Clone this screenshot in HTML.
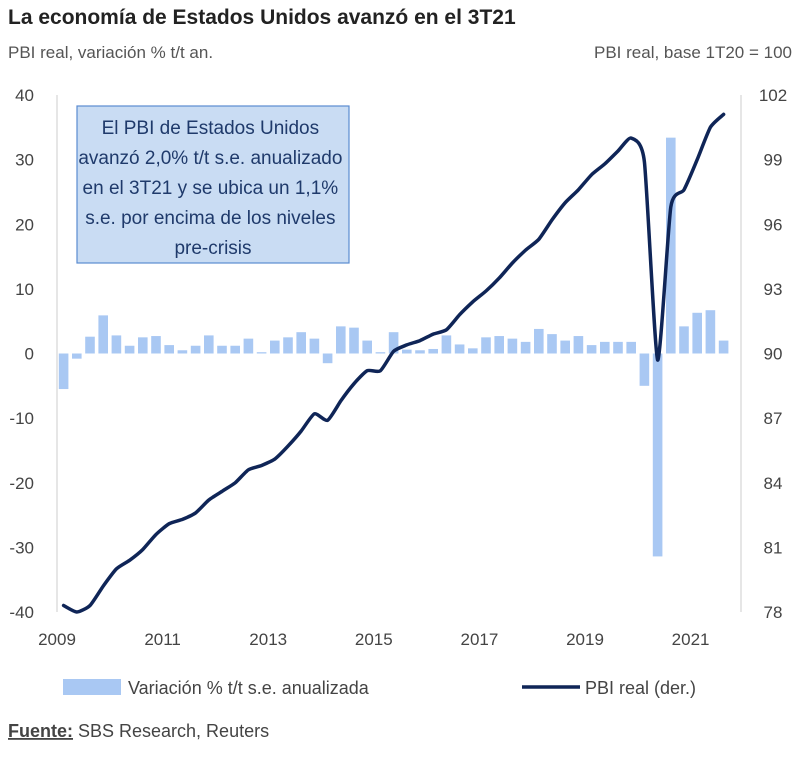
<!DOCTYPE html>
<html><head><meta charset="utf-8"><style>
body{margin:0;background:#fff;width:800px;height:754px;overflow:hidden;font-family:"Liberation Sans",sans-serif}
</style></head><body>
<svg width="800" height="754" xmlns="http://www.w3.org/2000/svg" font-family="Liberation Sans, sans-serif">
<text x="8" y="24" font-size="21" font-weight="bold" fill="#222">La economía de Estados Unidos avanzó en el 3T21</text>
<text x="8" y="58" font-size="17" fill="#555">PBI real, variación % t/t an.</text>
<text x="792" y="58" font-size="17" fill="#555" text-anchor="end">PBI real, base 1T20 = 100</text>
<line x1="57" y1="95" x2="57" y2="612" stroke="#ccc"/>
<line x1="741" y1="95" x2="741" y2="612" stroke="#ccc"/>
<g id="bars"></g><g id="ticks"></g>
<path id="line" fill="none" stroke="#0f2557" stroke-width="3.5" stroke-linejoin="round" stroke-linecap="round"/>
<g>
<rect x="77" y="106" width="272" height="157" fill="#c9dcf3" stroke="#5b8bd0" stroke-width="1.2"/>
<text font-size="19" fill="#1f3a6b" text-anchor="middle">
<tspan x="213" y="134">El PBI de Estados Unidos</tspan>
<tspan x="213" y="164">avanzó 2,0% t/t s.e. anualizado</tspan>
<tspan x="213" y="194">en el 3T21 y se ubica un 1,1%</tspan>
<tspan x="213" y="224">s.e. por encima de los niveles</tspan>
<tspan x="213" y="254">pre-crisis</tspan></text></g>
<g>
<rect x="63" y="679" width="58" height="16" fill="#a9c8f3"/>
<text x="128" y="694" font-size="18" fill="#444">Variación % t/t s.e. anualizada</text>
<line x1="522" y1="687" x2="580" y2="687" stroke="#0f2557" stroke-width="3.5"/>
<text x="585" y="694" font-size="18" fill="#444">PBI real (der.)</text></g>
<text x="8" y="737" font-size="18" fill="#444"><tspan font-weight="bold" text-decoration="underline">Fuente:</tspan> SBS Research, Reuters</text>
</svg>
<script>
const barValues=[-5.5,-0.8,2.6,5.9,2.8,1.2,2.5,2.7,1.3,0.5,1.2,2.8,1.2,1.2,2.3,0.2,2.0,2.5,3.3,2.3,-1.5,4.2,4.0,2.0,0.2,3.3,0.6,0.5,0.7,2.8,1.4,0.8,2.5,2.7,2.3,1.8,3.8,3.0,2.0,2.7,1.3,1.8,1.8,1.8,-5.0,-31.4,33.4,4.2,6.3,6.7,2.0];
const lineValues=[78.3,78.0,78.3,79.2,80.0,80.4,80.9,81.6,82.1,82.3,82.6,83.2,83.6,84.0,84.6,84.8,85.1,85.7,86.4,87.2,86.9,87.8,88.6,89.2,89.2,90.1,90.4,90.6,90.9,91.1,91.8,92.4,92.9,93.5,94.2,94.8,95.3,96.2,97.0,97.6,98.3,98.8,99.4,100.0,98.9,89.7,96.8,97.6,99.0,100.5,101.1];
const leftTicks=[40,30,20,10,0,-10,-20,-30,-40];
const rightTicks=[102,99,96,93,90,87,84,81,78];
const yearTicks=[2009,2011,2013,2015,2017,2019,2021];
const NS="http://www.w3.org/2000/svg";
const plotTop=95,plotBot=612,x0=57,qw=13.2;
const yL=v=>plotTop+(40-v)*(plotBot-plotTop)/80;
const yR=v=>plotTop+(102-v)*(plotBot-plotTop)/24;
const xQ=i=>x0+i*qw+qw/2;
const xYear=y=>x0+(y-2009)*4*qw;
function mk(t,a){const e=document.createElementNS(NS,t);for(const k in a)e.setAttribute(k,a[k]);return e;}
const bars=document.getElementById('bars');
barValues.forEach((v,i)=>{
 const y1=Math.min(yL(v),yL(0)),h=Math.abs(yL(v)-yL(0));
 const r=mk('rect',{x:xQ(i)-4.8,y:y1,width:9.6,height:h,fill:'#a9c8f3'});
 
 
 bars.appendChild(r);
});
const pts=lineValues.map((v,i)=>[xQ(i),yR(v)]);
let d='M'+pts[0][0].toFixed(1)+' '+pts[0][1].toFixed(1);
for(let i=0;i<pts.length-1;i++){
 const p0=pts[Math.max(0,i-1)],p1=pts[i],p2=pts[i+1],p3=pts[Math.min(pts.length-1,i+2)];
 const t=0.1;
 const c1=[p1[0]+(p2[0]-p0[0])*t,p1[1]+(p2[1]-p0[1])*t];
 const c2=[p2[0]-(p3[0]-p1[0])*t,p2[1]-(p3[1]-p1[1])*t];
 d+=' C'+c1.map(n=>n.toFixed(1)).join(' ')+' '+c2.map(n=>n.toFixed(1)).join(' ')+' '+p2[0].toFixed(1)+' '+p2[1].toFixed(1);
}
document.getElementById('line').setAttribute('d',d);
const tk=document.getElementById('ticks');
leftTicks.forEach(v=>{const t=mk('text',{x:34,y:yL(v)+6,'font-size':17,fill:'#444','text-anchor':'end'});t.textContent=v;

tk.appendChild(t);});
rightTicks.forEach(v=>{const t=mk('text',{x:773,y:yR(v)+6,'font-size':17,fill:'#444','text-anchor':'middle'});t.textContent=v;

tk.appendChild(t);});
yearTicks.forEach(v=>{const t=mk('text',{x:xYear(v),y:645,'font-size':17,fill:'#444','text-anchor':'middle'});t.textContent=v;

tk.appendChild(t);});
</script>
</body></html>
